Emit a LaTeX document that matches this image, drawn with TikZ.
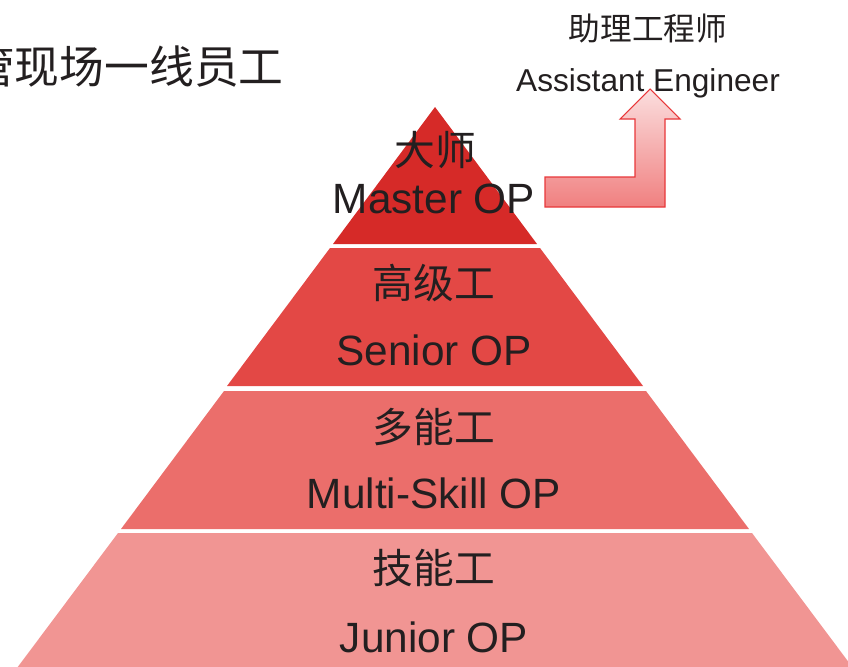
\documentclass[tikz,border=0pt]{standalone}
\usepackage{fontspec}
\setmainfont{Liberation Sans}
\newfontfamily\cjk{Noto Sans CJK SC}
\definecolor{lay1}{HTML}{D62A28}
\definecolor{lay2}{HTML}{E34845}
\definecolor{lay3}{HTML}{EB6E6B}
\definecolor{lay4}{HTML}{F19593}
\definecolor{txt}{HTML}{231F20}
\definecolor{arrtop}{HTML}{FBDEDE}
\definecolor{arrbot}{HTML}{F08080}
\definecolor{arredge}{HTML}{E8383A}
\begin{document}
\begin{tikzpicture}[x=0.02cm,y=-0.02cm,
  en/.style={inner sep=0pt,text=txt,font=\fontsize{24.1}{26}\selectfont},
  zh/.style={inner sep=0pt,text=txt,font=\cjk\fontsize{23.2}{26}\selectfont},
  zhbig/.style={inner sep=0pt,text=txt,font=\cjk\fontsize{25.5}{28}\selectfont},
  ensmall/.style={inner sep=0pt,text=txt,font=\fontsize{18}{20}\selectfont},
  zhsmall/.style={inner sep=0pt,text=txt,font=\cjk\fontsize{18}{20}\selectfont}]
\useasboundingbox (0,0) rectangle (848,666);
% pyramid layers
\fill[lay1] (435,107) -- (537,244) -- (333,244) -- cycle;
\fill[lay2] (330,248) -- (540,248) -- (643,386) -- (227,386) -- cycle;
\fill[lay3] (224,391) -- (646,391) -- (749,529) -- (121,529) -- cycle;
\fill[lay4] (118,533) -- (752,533) -- (862,680) -- (8,680) -- cycle;
% bent arrow
\shade[top color=arrtop,bottom color=arrbot,draw=arredge,line width=0.6pt]
  (545,177) -- (635,177) -- (635,119) -- (620,119) -- (650,89) -- (680,119)
  -- (665,119) -- (665,207) -- (545,207) -- cycle;
% texts
\node[zhbig,anchor=east] (lead) at (284,66) {管现场一线员工};
\node[zhsmall] (ae-zh) at (648,29) {助理工程师};
\node[ensmall,anchor=base] (ae-en) at (648,91) {Assistant Engineer};
\node[zh] (l1-zh) at (435,150) {大师};
\node[en,anchor=base] (l1-en) at (434,213) {Master OP};
\node[zh] (l2-zh) at (434,283) {高级工};
\node[en,anchor=base] (l2-en) at (434,365) {Senior OP};
\node[zh] (l3-zh) at (434,427) {多能工};
\node[en,anchor=base] (l3-en) at (434,508) {Multi-Skill OP};
\node[zh] (l4-zh) at (434,568) {技能工};
\node[en,anchor=base] (l4-en) at (434,652) {Junior OP};
\end{tikzpicture}
\end{document}
